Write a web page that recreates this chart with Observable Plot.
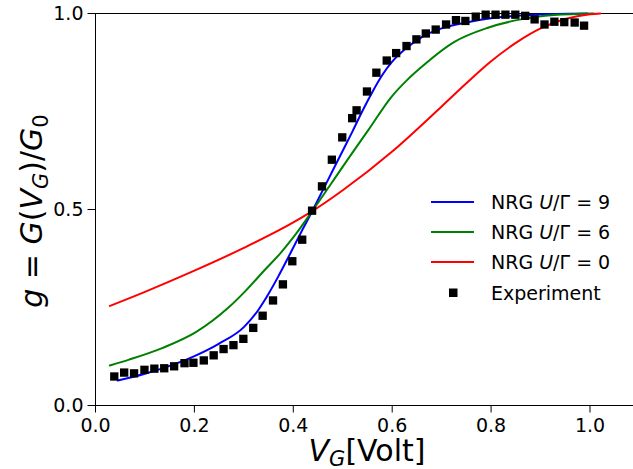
<!DOCTYPE html>
<html>
<head>
<meta charset="utf-8">
<script src="https://cdn.jsdelivr.net/npm/d3@7"></script>
<script src="https://cdn.jsdelivr.net/npm/@observablehq/plot@0.6"></script>
<style>
  html, body { margin: 0; padding: 0; background: white; }
  svg { display: block; }
</style>
</head>
<body>
<div id="chart"></div>
<script>
// ---- Data ----
const xTicks = [0, 0.2, 0.4, 0.6, 0.8, 1.0];
const yTicks = [0, 0.5, 1.0];

const seriesNames = ["NRG U/Γ = 9", "NRG U/Γ = 6", "NRG U/Γ = 0"];
const seriesColors = ["#0000ff", "#008000", "#ff0000"];

// NRG U/Γ = 9 (blue)
const nrg9X = [0.045, 0.10, 0.15, 0.20, 0.25, 0.30, 0.33, 0.35, 0.37, 0.385, 0.40, 0.42, 0.44, 0.46, 0.48, 0.50, 0.52, 0.54, 0.56, 0.58, 0.60, 0.63, 0.66, 0.70, 0.75, 0.80, 0.86, 0.93, 0.995];
const nrg9Y = [0.064, 0.081, 0.101, 0.126, 0.158, 0.200, 0.245, 0.285, 0.330, 0.366, 0.403, 0.452, 0.500, 0.550, 0.600, 0.650, 0.700, 0.752, 0.800, 0.843, 0.877, 0.913, 0.940, 0.962, 0.977, 0.988, 0.995, 0.999, 1.0];

// NRG U/Γ = 6 (green)
const nrg6X = [0.029, 0.068, 0.136, 0.203, 0.270, 0.304, 0.338, 0.375, 0.405, 0.439, 0.476, 0.513, 0.553, 0.597, 0.630, 0.658, 0.725, 0.792, 0.860, 0.927, 1.008];
const nrg6Y = [0.102, 0.117, 0.147, 0.187, 0.251, 0.293, 0.340, 0.390, 0.437, 0.497, 0.565, 0.633, 0.705, 0.785, 0.830, 0.862, 0.927, 0.963, 0.985, 0.996, 1.0];

// NRG U/Γ = 0 (red)
const nrg0X = [0.029, 0.10, 0.20, 0.30, 0.40, 0.44, 0.50, 0.60, 0.70, 0.75, 0.80, 0.85, 0.90, 0.95, 1.00, 1.021];
const nrg0Y = [0.254, 0.290, 0.344, 0.402, 0.467, 0.497, 0.549, 0.648, 0.763, 0.822, 0.878, 0.925, 0.962, 0.986, 0.998, 1.0];

// Experiment (black squares)
const expX = [0.038, 0.058, 0.078, 0.099, 0.119, 0.139, 0.159, 0.180, 0.198, 0.219, 0.239, 0.259, 0.279, 0.299, 0.319, 0.338, 0.359, 0.379, 0.398, 0.418, 0.438, 0.458, 0.478, 0.499, 0.519, 0.528, 0.549, 0.568, 0.589, 0.608, 0.629, 0.649, 0.668, 0.688, 0.709, 0.729, 0.748, 0.769, 0.789, 0.809, 0.829, 0.849, 0.869, 0.888, 0.908, 0.928, 0.948, 0.969, 0.988];
const expY = [0.074, 0.084, 0.082, 0.091, 0.094, 0.095, 0.100, 0.108, 0.109, 0.115, 0.128, 0.144, 0.154, 0.170, 0.198, 0.229, 0.268, 0.309, 0.368, 0.423, 0.497, 0.559, 0.627, 0.684, 0.733, 0.753, 0.801, 0.849, 0.880, 0.899, 0.917, 0.934, 0.949, 0.959, 0.972, 0.983, 0.981, 0.992, 0.997, 0.997, 0.997, 0.997, 0.994, 0.985, 0.972, 0.979, 0.978, 0.977, 0.969];

// ---- Build tables ----
const toRows = (xs, ys) => xs.map((x, i) => ({x, y: ys[i]}));
const curves = [toRows(nrg9X, nrg9Y), toRows(nrg6X, nrg6Y), toRows(nrg0X, nrg0Y)];
const expRows = toRows(expX, expY);

const fmt = d3.format(".1f");

const chart = Plot.plot({
  width: 633,
  height: 469,
  marginLeft: 95,
  marginRight: 0,
  marginTop: 13,
  marginBottom: 64,
  style: {fontFamily: "'DejaVu Sans', sans-serif", fontSize: "19px", background: "white", color: "black"},
  x: {domain: [0, 1.088]},
  y: {domain: [0, 1]},
  marks: [
    Plot.axisX({ticks: xTicks, tickFormat: fmt, tickSize: 7.5, tickPadding: 5, label: null, fontSize: 19}),
    Plot.axisY({ticks: yTicks, tickFormat: fmt, tickSize: 7.5, tickPadding: 4.5, label: null, fontSize: 19}),
    Plot.ruleY([0, 1], {stroke: "black", strokeWidth: 1}),
    Plot.ruleX([0], {stroke: "black", strokeWidth: 1}),
    ...curves.map((rows, i) => Plot.line(rows, {x: "x", y: "y", stroke: seriesColors[i], strokeWidth: 2, curve: "monotone-x"})),
    Plot.dot(expRows, {x: "x", y: "y", symbol: "square", r: 4.7, fill: "black", stroke: "none"})
  ]
});

document.getElementById("chart").appendChild(chart);

// ---- Axis labels & legend (text with math styling) ----
const svg = d3.select(chart);
const FONT = "'DejaVu Sans', sans-serif";

// x label: V_G[Volt]
const xl = svg.append("text")
  .attr("x", 367).attr("y", 461)
  .attr("text-anchor", "middle")
  .attr("font-family", FONT).attr("font-size", 30).attr("fill", "black");
xl.append("tspan").attr("font-style", "italic").text("V");
xl.append("tspan").attr("font-style", "italic").attr("font-size", 21).attr("dy", 5).text("G");
xl.append("tspan").attr("dy", -5).text("[Volt]");

// y label: g = G(V_G)/G_0
const yl = svg.append("text")
  .attr("transform", "translate(42,211) rotate(-90)")
  .attr("text-anchor", "middle")
  .attr("font-family", FONT).attr("font-size", 30).attr("fill", "black");
yl.append("tspan").attr("font-style", "italic").text("g");
yl.append("tspan").text(" = ");
yl.append("tspan").attr("font-style", "italic").text("G");
yl.append("tspan").text("(");
yl.append("tspan").attr("font-style", "italic").text("V");
yl.append("tspan").attr("font-style", "italic").attr("font-size", 21).attr("dy", 6).text("G");
yl.append("tspan").attr("dy", -6).text(")/");
yl.append("tspan").attr("font-style", "italic").text("G");
yl.append("tspan").attr("font-size", 21).attr("dy", 6).text("0");

// legend
const legendRows = [202, 232, 262];
const legendVals = ["9", "6", "0"];
const lg = svg.append("g").attr("font-family", FONT).attr("font-size", 19).attr("fill", "black").attr("text-anchor", "start");
legendRows.forEach((ry, i) => {
  lg.append("line").attr("x1", 431).attr("x2", 474).attr("y1", ry).attr("y2", ry)
    .attr("stroke", seriesColors[i]).attr("stroke-width", 2);
  const t = lg.append("text").attr("x", 491).attr("y", ry + 7).attr("text-anchor", "start");
  t.append("tspan").text("NRG ");
  t.append("tspan").attr("font-style", "italic").text("U");
  t.append("tspan").text("/Γ = " + legendVals[i]);
});
lg.append("rect").attr("x", 449).attr("y", 288.5).attr("width", 8.5).attr("height", 8.5).attr("fill", "black");
lg.append("text").attr("x", 491).attr("y", 300).attr("text-anchor", "start").text("Experiment");
</script>
</body>
</html>
